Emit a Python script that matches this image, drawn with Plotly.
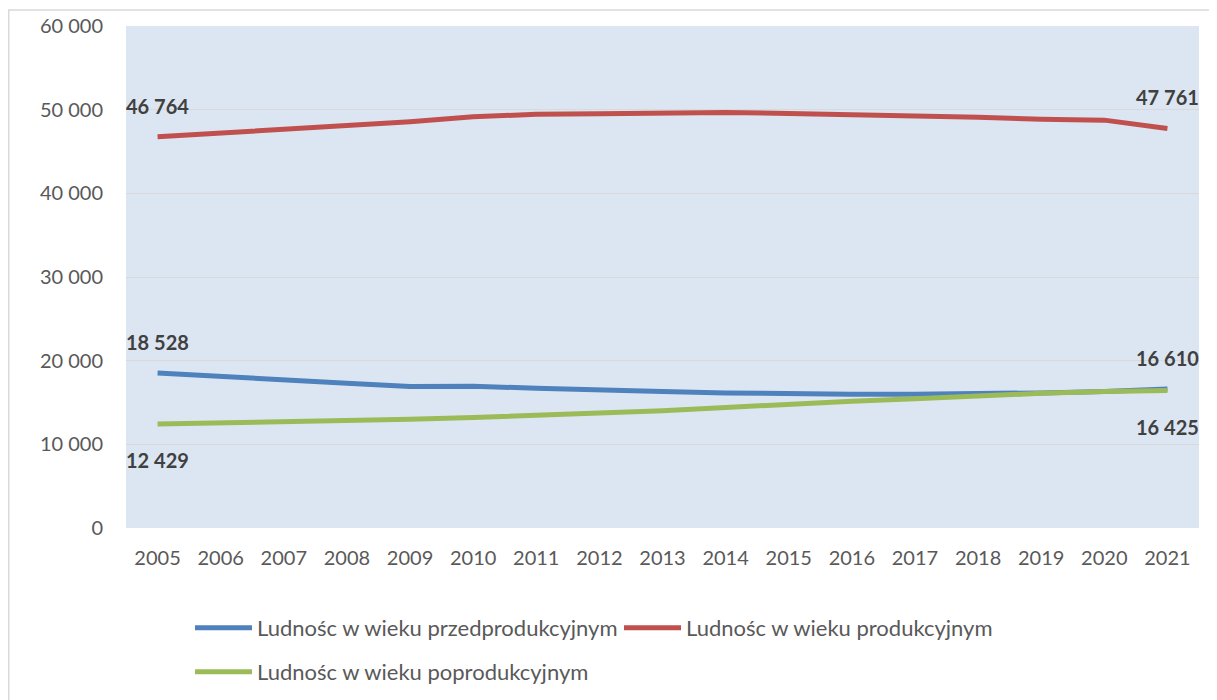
import plotly.graph_objects as go

years = [str(y) for y in range(2005, 2022)]
przed = [18528, 18100, 17600, 17300, 16900, 16950, 16700, 16450, 16300, 16150, 16000, 16000, 16000, 16050, 16150, 16300, 16610]
prod = [46764, 47200, 47700, 48150, 48550, 49150, 49450, 49500, 49650, 49650, 49550, 49450, 49350, 49100, 48850, 48750, 47761]
popr = [12429, 12550, 12700, 12800, 13000, 13200, 13450, 13750, 14000, 14400, 14800, 15150, 15450, 15800, 16100, 16300, 16425]
names = ["Ludnośc w wieku przedprodukcyjnym", "Ludnośc w wieku produkcyjnym", "Ludnośc w wieku poprodukcyjnym"]
colors = ["#4f81bd", "#c0504d", "#9bbb59"]
yticks = [0, 10000, 20000, 30000, 40000, 50000, 60000]

# page body has an 8px margin: figure coordinates = screen - 8
OFF = 8
W, H = 1217 - OFF, 700 - OFF
L, R, T, B = 126 - OFF, 1199 - OFF, 26 - OFF, 528 - OFF
pw, ph = R - L, B - T
FONT = "Lato"

fig = go.Figure()
legends = ["legend", "legend", "legend2"]
for name, vals, col, lg in zip(names, [przed, prod, popr], colors, legends):
    fig.add_trace(go.Scatter(x=years, y=vals, mode="lines", name=name, legend=lg,
                             line=dict(color=col, width=5)))

def fmt(v):
    return f"{v:,}".replace(",", " ")

lab_style = dict(showarrow=False, font=dict(family=FONT, size=20, color="#404040", weight="bold"))
for vals, pos in [(prod, "above"), (przed, "above"), (popr, "below")]:
    for idx in [0, len(years) - 1]:
        yshift = 31 if pos == "above" else -36
        fig.add_annotation(x=idx, y=vals[idx], text=fmt(vals[idx]),
                           xshift=0, yshift=yshift, xanchor="center", yanchor="middle",
                           **lab_style)

# outer border
fig.add_shape(type="rect", xref="paper", yref="paper",
              x0=(0.75 - L) / pw, x1=(1202 - L) / pw,
              y0=(B - 700) / ph, y1=(B - 2) / ph,
              line=dict(color="#d9d9d9", width=1.5), fillcolor="rgba(0,0,0,0)", layer="below")

leg_font = dict(family=FONT, size=22, color="#595959")
fig.update_layout(
    width=W, height=H,
    margin=dict(l=L, r=W - R, t=T, b=H - B, autoexpand=False),
    paper_bgcolor="white", plot_bgcolor="#dce6f2",
    separators=", ",
    font=dict(family=FONT, size=20, color="#595959"),
    showlegend=True,
    legend=dict(orientation="h", x=(182 - L) / pw, xanchor="left", y=-(599 - B) / ph, yanchor="top",
                entrywidth=357, entrywidthmode="pixels", font=leg_font, itemwidth=57,
                tracegroupgap=0, bgcolor="rgba(0,0,0,0)"),
    legend2=dict(orientation="h", x=(182 - L) / pw, xanchor="left", y=-(643 - B) / ph, yanchor="top",
                 font=leg_font, itemwidth=57, bgcolor="rgba(0,0,0,0)"),
)
fig.update_xaxes(type="category", range=[-0.5, 16.5], showgrid=False, showline=False,
                 ticks="", tickfont=dict(size=20, color="#595959"), ticklabelstandoff=16)
fig.update_yaxes(range=[0, 60000], tickvals=yticks, tickformat=",d", showgrid=True,
                 gridcolor="#d9d9d9", gridwidth=1, zeroline=False, showline=False,
                 tickfont=dict(size=20, color="#595959"), ticklabelstandoff=22)

fig.write_html("out.html")
